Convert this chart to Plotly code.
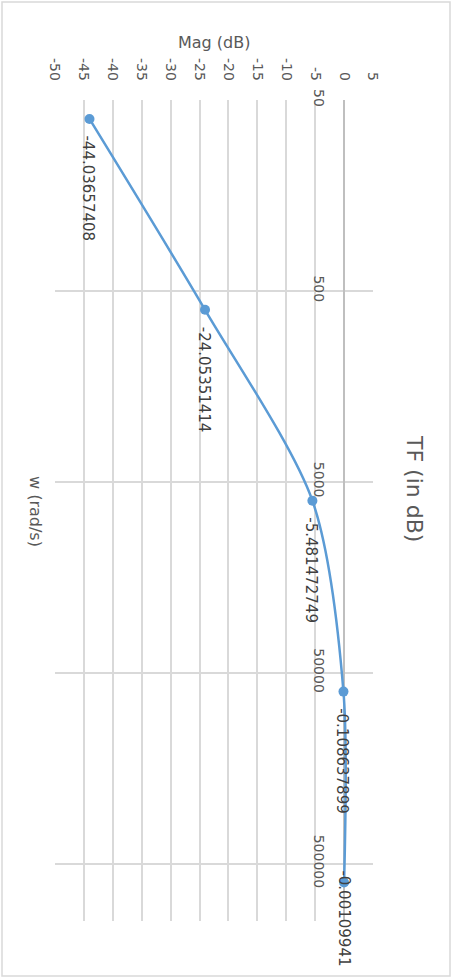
import numpy as np
import plotly.graph_objects as go

# chart values (Excel chart shown turned a quarter clockwise)
w_rad_s = [62.83, 628.3, 6283.2, 62831.9, 628318.5]
mag_db = [-44.03657408, -24.05351414, -5.481472749, -0.108637899, -0.00109941]
mag_labels = ["-44.03657408", "-24.05351414", "-5.481472749", "-0.108637899", "-0.00109941"]
w_ticks = [50, 500, 5000, 50000, 500000]
w_ticktext = ["50", "500", "5000", "50000", "500000"]
mag_ticks = [-50, -45, -40, -35, -30, -25, -20, -15, -10, -5, 0, 5]

W, H = 452, 979
L, R, T, B = 55, 79, 100, 58
pw, ph = W - L - R, H - T - B

FONT = "DejaVu Sans"
BLUE = "#5b9bd5"
GRID = "#d9d9d9"
TXT = "#595959"


def px(xp):
    # pixel column -> paper x
    return (xp - L) / pw


def py(yp):
    # pixel row -> paper y
    return (H - B - yp) / ph


fig = go.Figure(go.Scatter(
    x=mag_db,
    y=w_rad_s,
    mode="lines+markers",
    line=dict(color=BLUE, width=2.5, shape="spline", smoothing=0.8),
    marker=dict(color=BLUE, size=10),
    hoverinfo="skip",
))

# data labels, written downwards under each point
for i, (m, w, lab) in enumerate(zip(mag_db, w_rad_s, mag_labels)):
    last = i == len(mag_db) - 1
    fig.add_annotation(
        x=m, y=np.log10(w), text=lab, textangle=90, showarrow=False,
        xanchor="center", yanchor="top",
        yshift=14 if last else -15, xshift=-1,
        font=dict(family=FONT, size=15, color="#404040"),
    )

fig.add_annotation(x=px(415), y=py(488), xref="paper", yref="paper", text="TF (in dB)",
                   textangle=90, showarrow=False, xanchor="center", yanchor="middle",
                   font=dict(family=FONT, size=22, color=TXT))
fig.add_annotation(x=px(214), y=py(42), xref="paper", yref="paper", text="Mag (dB)",
                   showarrow=False, xanchor="center", yanchor="middle",
                   font=dict(family=FONT, size=16, color=TXT))
fig.add_annotation(x=px(36), y=py(511), xref="paper", yref="paper", text="w (rad/s)",
                   textangle=90, showarrow=False, xanchor="center", yanchor="middle",
                   font=dict(family=FONT, size=16, color=TXT))

# chart border
fig.add_shape(type="rect", xref="paper", yref="paper",
              x0=px(2), x1=px(450), y0=py(976), y1=py(2),
              line=dict(color=GRID, width=1.5))

fig.update_layout(
    width=W, height=H,
    margin=dict(l=L, r=R, t=T, b=B),
    paper_bgcolor="white", plot_bgcolor="white",
    showlegend=False,
    xaxis=dict(
        range=[-50, 5], tickvals=mag_ticks, ticktext=[str(v) for v in mag_ticks],
        side="top", tickangle=90,
        showgrid=True, gridcolor=GRID, gridwidth=1.6,
        zeroline=True, zerolinecolor="#bfbfbf", zerolinewidth=1.6,
        showline=False, ticks="", ticklabelstandoff=16, automargin=False,
        tickfont=dict(family=FONT, size=14, color=TXT),
    ),
    yaxis=dict(
        type="log", range=[6, np.log10(50)],
        tickvals=w_ticks, ticktext=w_ticktext, tickangle=90,
        anchor="free", position=50 / 55, side="left",
        showgrid=True, gridcolor=GRID, gridwidth=1.6,
        zeroline=False, showline=False, ticks="", ticklabelstandoff=16, automargin=False,
        tickfont=dict(family=FONT, size=14, color=TXT),
    ),
)

# page body has a default 8px margin; drop it so the figure sits at the corner
fig.write_html("out.html", config={"displayModeBar": False},
               post_script="document.body.style.margin='0';")
